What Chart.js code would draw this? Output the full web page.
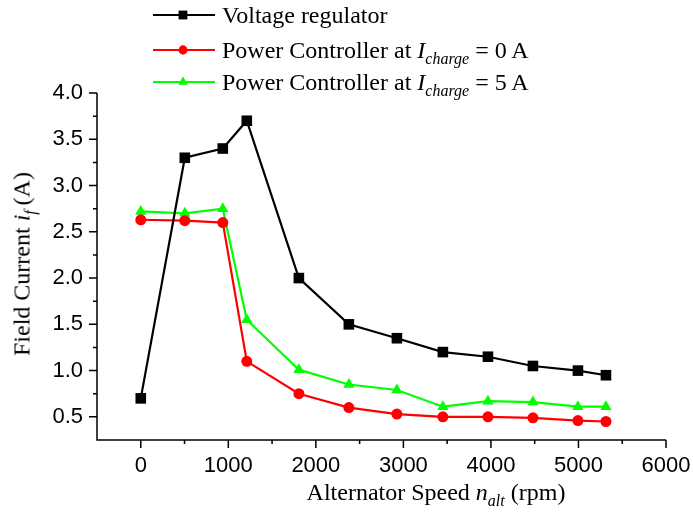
<!DOCTYPE html>
<html lang="en">
<head>
  <meta charset="UTF-8" />
  <title>Field Current vs Alternator Speed</title>
  <script src="https://cdn.jsdelivr.net/npm/chart.js"></script>
  <style>
    body {
      margin: 0;
      background: #fff;
    }
    .wrap {
      position: relative;
      width: 693px;
      height: 524px;
    }
    canvas {
      position: absolute;
      left: 0;
      top: 0;
    }
    .serif {
      font-family: 'Liberation Serif', 'Times New Roman', serif;
      font-size: 24px;
      color: #000;
      position: absolute;
      white-space: nowrap;
    }
    .legend-row {
      left: 153px;
      height: 30px;
      line-height: 30px;
      display: flex;
      align-items: center;
    }
    .legend-row canvas {
      position: static;
      margin-right: 7px;
    }
    sub {
      font-size: 16px;
      vertical-align: -6px;
      line-height: 0;
    }
    #ytitle {
      left: 22px;
      top: 264px;
      transform: translate(-50%, -50%) rotate(-90deg);
    }
    #xtitle {
      left: 436px;
      top: 492px;
      transform: translate(-50%, -50%);
    }
  </style>
</head>
<body>
  <div class="wrap">
    <canvas id="grafica" width="693" height="524"></canvas>
    <div class="serif legend-row" style="top:0px"><canvas class="key" width="62" height="16"></canvas><span>Voltage regulator</span></div>
    <div class="serif legend-row" style="top:35px"><canvas class="key" width="62" height="16"></canvas><span>Power Controller at <i>I</i><sub><i>charge</i></sub> = 0 A</span></div>
    <div class="serif legend-row" style="top:67px"><canvas class="key" width="62" height="16"></canvas><span>Power Controller at <i>I</i><sub><i>charge</i></sub> = 5 A</span></div>
    <div class="serif" id="ytitle">Field Current <i>i</i><sub><i>f</i></sub>&thinsp;(A)</div>
    <div class="serif" id="xtitle">Alternator Speed <i>n</i><sub><i>alt</i></sub> (rpm)</div>
  </div>

  <script>
    // velocidad del alternador (rpm)
    const speed = [0, 503, 937, 1211, 1806, 2377, 2926, 3451, 3966, 4480, 4994, 5314];
    const regulador = [0.70, 3.30, 3.40, 3.70, 2.00, 1.50, 1.35, 1.20, 1.15, 1.05, 1.00, 0.95];
    const controlador0 = [2.63, 2.62, 2.60, 1.10, 0.75, 0.60, 0.53, 0.50, 0.50, 0.49, 0.46, 0.45];
    const controlador5 = [2.72, 2.70, 2.75, 1.55, 1.01, 0.85, 0.79, 0.61, 0.67, 0.66, 0.61, 0.61];
    const xTicks = [0, 1000, 2000, 3000, 4000, 5000, 6000];
    const yTicks = [0.5, 1.0, 1.5, 2.0, 2.5, 3.0, 3.5, 4.0];

    const series = [
      { label: 'Voltage regulator', data: regulador, color: '#000000', shape: 'rect', r: 7.5 },
      { label: 'Power Controller at Icharge = 0 A', data: controlador0, color: '#ff0000', shape: 'circle', r: 5.5 },
      { label: 'Power Controller at Icharge = 5 A', data: controlador5, color: '#00ff00', shape: 'triangle', r: 6.5 }
    ];

    // marcas secundarias y ejes exteriores
    const minorTicks = {
      id: 'minorTicks',
      afterDraw(chart) {
        const ctx = chart.ctx;
        const xs = chart.scales.x, ys = chart.scales.y;
        const area = chart.chartArea;
        ctx.save();
        ctx.strokeStyle = '#000';
        ctx.lineWidth = 1.5;
        ctx.beginPath();
        ctx.moveTo(area.left, ys.getPixelForValue(4.0));
        ctx.lineTo(area.left, area.bottom);
        ctx.lineTo(xs.getPixelForValue(6000), area.bottom);
        for (let v = 500; v < 6000; v += 1000) {
          const px = xs.getPixelForValue(v);
          ctx.moveTo(px, area.bottom);
          ctx.lineTo(px, area.bottom + 4);
        }
        for (const v of xTicks) {
          const px = xs.getPixelForValue(v);
          ctx.moveTo(px, area.bottom);
          ctx.lineTo(px, area.bottom + 8);
        }
        for (let v = 0.75; v < 4.0; v += 0.5) {
          const py = ys.getPixelForValue(v);
          ctx.moveTo(area.left, py);
          ctx.lineTo(area.left - 4, py);
        }
        for (const v of yTicks) {
          const py = ys.getPixelForValue(v);
          ctx.moveTo(area.left, py);
          ctx.lineTo(area.left - 8, py);
        }
        ctx.stroke();
        ctx.restore();
      }
    };

    new Chart(document.getElementById('grafica'), {
      type: 'line',
      data: {
        datasets: series.map(s => ({
          label: s.label,
          data: speed.map((x, i) => ({ x: x, y: s.data[i] })),
          borderColor: s.color,
          backgroundColor: s.color,
          borderWidth: 2.2,
          pointStyle: s.shape,
          pointRadius: s.r,
          pointBorderWidth: 0,
          tension: 0
        }))
      },
      options: {
        responsive: false,
        animation: false,
        layout: { padding: { top: 93, right: 27, left: 0, bottom: 0 } },
        plugins: {
          legend: { display: false },
          tooltip: { enabled: false }
        },
        scales: {
          x: {
            type: 'linear',
            min: -500,
            max: 6000,
            afterFit: s => { s.height = 84; s.paddingLeft = 0; s.paddingRight = 0; },
            afterBuildTicks: s => { s.ticks = xTicks.map(v => ({ value: v })); },
            grid: { display: false, drawTicks: false },
            border: { display: false },
            ticks: {
              padding: 13,
              color: '#000',
              font: { family: 'Liberation Sans, Arial, sans-serif', size: 22 },
              callback: v => String(v)
            }
          },
          y: {
            min: 0.25,
            max: 4.0,
            afterFit: s => { s.width = 97; s.paddingTop = 0; s.paddingBottom = 0; },
            afterBuildTicks: s => { s.ticks = yTicks.map(v => ({ value: v })); },
            grid: { display: false, drawTicks: false },
            border: { display: false },
            ticks: {
              padding: 14,
              color: '#000',
              font: { family: 'Liberation Sans, Arial, sans-serif', size: 22 },
              callback: v => v.toFixed(1)
            }
          }
        }
      },
      plugins: [minorTicks]
    });

    // muestras de la leyenda
    document.querySelectorAll('canvas.key').forEach((c, i) => {
      const s = series[i];
      const ctx = c.getContext('2d');
      ctx.strokeStyle = s.color;
      ctx.lineWidth = 2.2;
      ctx.beginPath();
      ctx.moveTo(0, 8);
      ctx.lineTo(62, 8);
      ctx.stroke();
      ctx.fillStyle = s.color;
      Chart.helpers.drawPoint(ctx, { pointStyle: s.shape, radius: s.r * 0.8, rotation: 0, borderWidth: 0 }, 30, 8);
      ctx.fill();
    });
  </script>
</body>
</html>
